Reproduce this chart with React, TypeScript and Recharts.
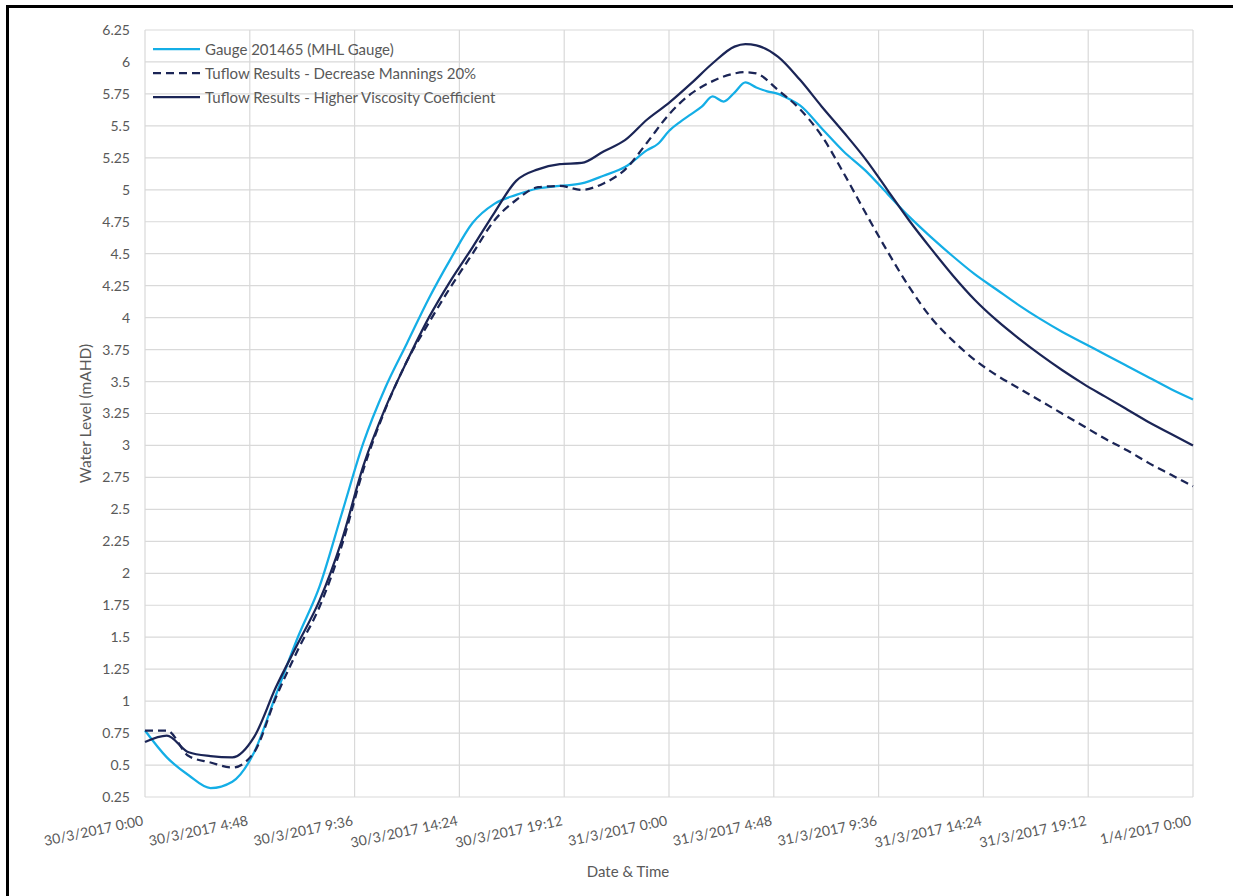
import React from 'react';
import { LineChart, Line, XAxis, YAxis, CartesianGrid } from 'recharts';

// hours since 30/3/2017 0:00
const hours = [
  0, 1, 2, 3, 4, 5, 6, 7, 8, 9, 10, 11, 12, 13, 14, 15, 16, 17, 18, 19, 20, 21, 22, 23,
  23.5, 24, 24.5, 25, 25.5, 26, 26.5, 27, 27.5, 28, 28.5, 29, 29.5,
  30, 31, 32, 33, 34, 35, 36, 37, 38, 39, 40, 41, 42, 43, 44, 45, 46, 47, 48,
];

const gauge = [
  0.77, 0.56, 0.42, 0.32, 0.37, 0.6, 1.05, 1.5, 1.9, 2.46, 3.02, 3.45, 3.8, 4.15, 4.46, 4.74, 4.89, 4.96, 5.01, 5.03, 5.05, 5.11, 5.18, 5.31,
  5.36, 5.46, 5.53, 5.59, 5.65, 5.73, 5.69, 5.76, 5.84, 5.8, 5.77, 5.75, 5.71,
  5.66, 5.48, 5.3, 5.15, 4.97, 4.79, 4.63, 4.48, 4.34, 4.22, 4.1, 3.99, 3.89, 3.8, 3.71, 3.62, 3.53, 3.44, 3.36,
];

const manningsMinus20 = [
  0.77, 0.77, 0.57, 0.52, 0.48, 0.6, 1.03, 1.4, 1.74, 2.21, 2.81, 3.28, 3.66, 3.96, 4.24, 4.5, 4.76, 4.92, 5.02, 5.03, 5.0, 5.05, 5.16, 5.37,
  null, 5.59, null, 5.75, null, 5.85, null, 5.91, 5.92, 5.91, null, 5.78, null,
  5.63, 5.42, 5.13, 4.82, 4.52, 4.24, 4.0, 3.82, 3.67, 3.55, 3.45, 3.35, 3.25, 3.15, 3.05, 2.96, 2.86, 2.77, 2.68,
];

const higherViscosity = [
  0.68, 0.73, 0.6, 0.57, 0.56, 0.72, 1.11, 1.45, 1.79, 2.25, 2.84, 3.29, 3.66, 4.0, 4.29, 4.55, 4.82, 5.07, 5.16, 5.2, 5.21, 5.3, 5.39, 5.55,
  null, 5.68, null, 5.83, null, 5.99, null, 6.12, 6.14, 6.13, null, 6.04, null,
  5.86, 5.65, 5.45, 5.24, 5.0, 4.76, 4.54, 4.33, 4.14, 3.98, 3.84, 3.71, 3.59, 3.48, 3.38, 3.28, 3.18, 3.09, 3.0,
];

const xTicks = [0, 4.8, 9.6, 14.4, 19.2, 24, 28.8, 33.6, 38.4, 43.2, 48];
const xTickLabels = [
  '30/3/2017 0:00', '30/3/2017 4:48', '30/3/2017 9:36', '30/3/2017 14:24', '30/3/2017 19:12',
  '31/3/2017 0:00', '31/3/2017 4:48', '31/3/2017 9:36', '31/3/2017 14:24', '31/3/2017 19:12',
  '1/4/2017 0:00',
];
const yTicks = [
  0.25, 0.5, 0.75, 1, 1.25, 1.5, 1.75, 2, 2.25, 2.5, 2.75, 3, 3.25,
  3.5, 3.75, 4, 4.25, 4.5, 4.75, 5, 5.25, 5.5, 5.75, 6, 6.25,
];

const seriesNames = [
  'Gauge 201465 (MHL Gauge)',
  'Tuflow Results - Decrease Mannings 20%',
  'Tuflow Results - Higher Viscosity Coefficient',
];

const data = hours.map((h, i) => ({
  h,
  gauge: gauge[i],
  mannings: manningsMinus20[i],
  viscosity: higherViscosity[i],
}));

const FONT = 'Lato, "Open Sans", sans-serif';
const TEXT = '#595959';
const GAUGE_COLOR = '#14aee6';
const NAVY = '#1b2556';
const DASH = '8 5';

const XTick = ({ x, y, payload }: any) => {
  const label = xTickLabels[xTicks.indexOf(payload.value)] ?? '';
  return (
    <text
      transform={`translate(${x - 1}, ${y + 26}) rotate(-12)`}
      textAnchor="end"
      fill={TEXT}
      fontSize={14}
      fontFamily={FONT}
    >
      {label}
    </text>
  );
};

const legendRows = [
  { name: seriesNames[0], color: GAUGE_COLOR, dash: undefined },
  { name: seriesNames[1], color: NAVY, dash: DASH },
  { name: seriesNames[2], color: NAVY, dash: undefined },
];

const App: React.FC = () => {
  return (
    <div style={{ position: 'absolute', left: 0, top: 0, width: 1233, height: 896, background: '#fff' }}>
      <div
        style={{
          position: 'absolute',
          left: 6,
          top: 5,
          right: 0,
          bottom: 0,
          borderLeft: '3px solid #000',
          borderTop: '3px solid #000',
        }}
      />
      <LineChart
        width={1233}
        height={896}
        data={data}
        margin={{ top: 30, right: 40, bottom: 39, left: 85 }}
        style={{ position: 'absolute', left: 0, top: 0 }}
      >
        <CartesianGrid stroke="#d9d9d9" strokeWidth={1.2} />
        <XAxis
          dataKey="h"
          type="number"
          domain={[0, 48]}
          ticks={xTicks}
          interval={0}
          axisLine={false}
          tickLine={false}
          tickSize={0}
          height={60}
          tick={<XTick />}
          label={({ viewBox }: any) => (
            <text
              x={viewBox.x + viewBox.width / 2 - 41}
              y={viewBox.y + 80}
              textAnchor="middle"
              fill={TEXT}
              fontSize={15}
              fontFamily={FONT}
            >
              Date &amp; Time
            </text>
          )}
        />
        <YAxis
          type="number"
          domain={[0.25, 6.25]}
          ticks={yTicks}
          interval={0}
          width={60}
          axisLine={false}
          tickLine={false}
          tickSize={0}
          tickMargin={15}
          tick={{ fill: TEXT, fontSize: 14, fontFamily: FONT }}
          tickFormatter={(v: number) => String(v)}
          label={({ viewBox }: any) => {
            const cx = 85;
            const cy = viewBox.y + viewBox.height / 2;
            return (
              <text
                x={cx}
                y={cy}
                transform={`rotate(-90, ${cx}, ${cy})`}
                textAnchor="middle"
                dominantBaseline="central"
                fill={TEXT}
                fontSize={15.5}
                fontFamily={FONT}
              >
                Water Level (mAHD)
              </text>
            );
          }}
        />
        <Line
          name={seriesNames[0]}
          dataKey="gauge"
          type="monotone"
          stroke={GAUGE_COLOR}
          strokeWidth={2.25}
          dot={false}
          connectNulls
          isAnimationActive={false}
        />
        <Line
          name={seriesNames[1]}
          dataKey="mannings"
          type="monotone"
          stroke={NAVY}
          strokeWidth={2.25}
          strokeDasharray={DASH}
          dot={false}
          connectNulls
          isAnimationActive={false}
        />
        <Line
          name={seriesNames[2]}
          dataKey="viscosity"
          type="monotone"
          stroke={NAVY}
          strokeWidth={2.25}
          dot={false}
          connectNulls
          isAnimationActive={false}
        />
      </LineChart>
      <div style={{ position: 'absolute', left: 152, top: 37, fontFamily: FONT, fontSize: 15, color: TEXT }}>
        {legendRows.map((row) => (
          <div key={row.name} style={{ display: 'flex', alignItems: 'center', height: 24 }}>
            <svg width={48} height={6} style={{ marginRight: 5 }}>
              <line x1={1} y1={3} x2={48} y2={3} stroke={row.color} strokeWidth={2.25} strokeDasharray={row.dash} />
            </svg>
            <span style={{ whiteSpace: 'nowrap' }}>{row.name}</span>
          </div>
        ))}
      </div>
    </div>
  );
};

export default App;
